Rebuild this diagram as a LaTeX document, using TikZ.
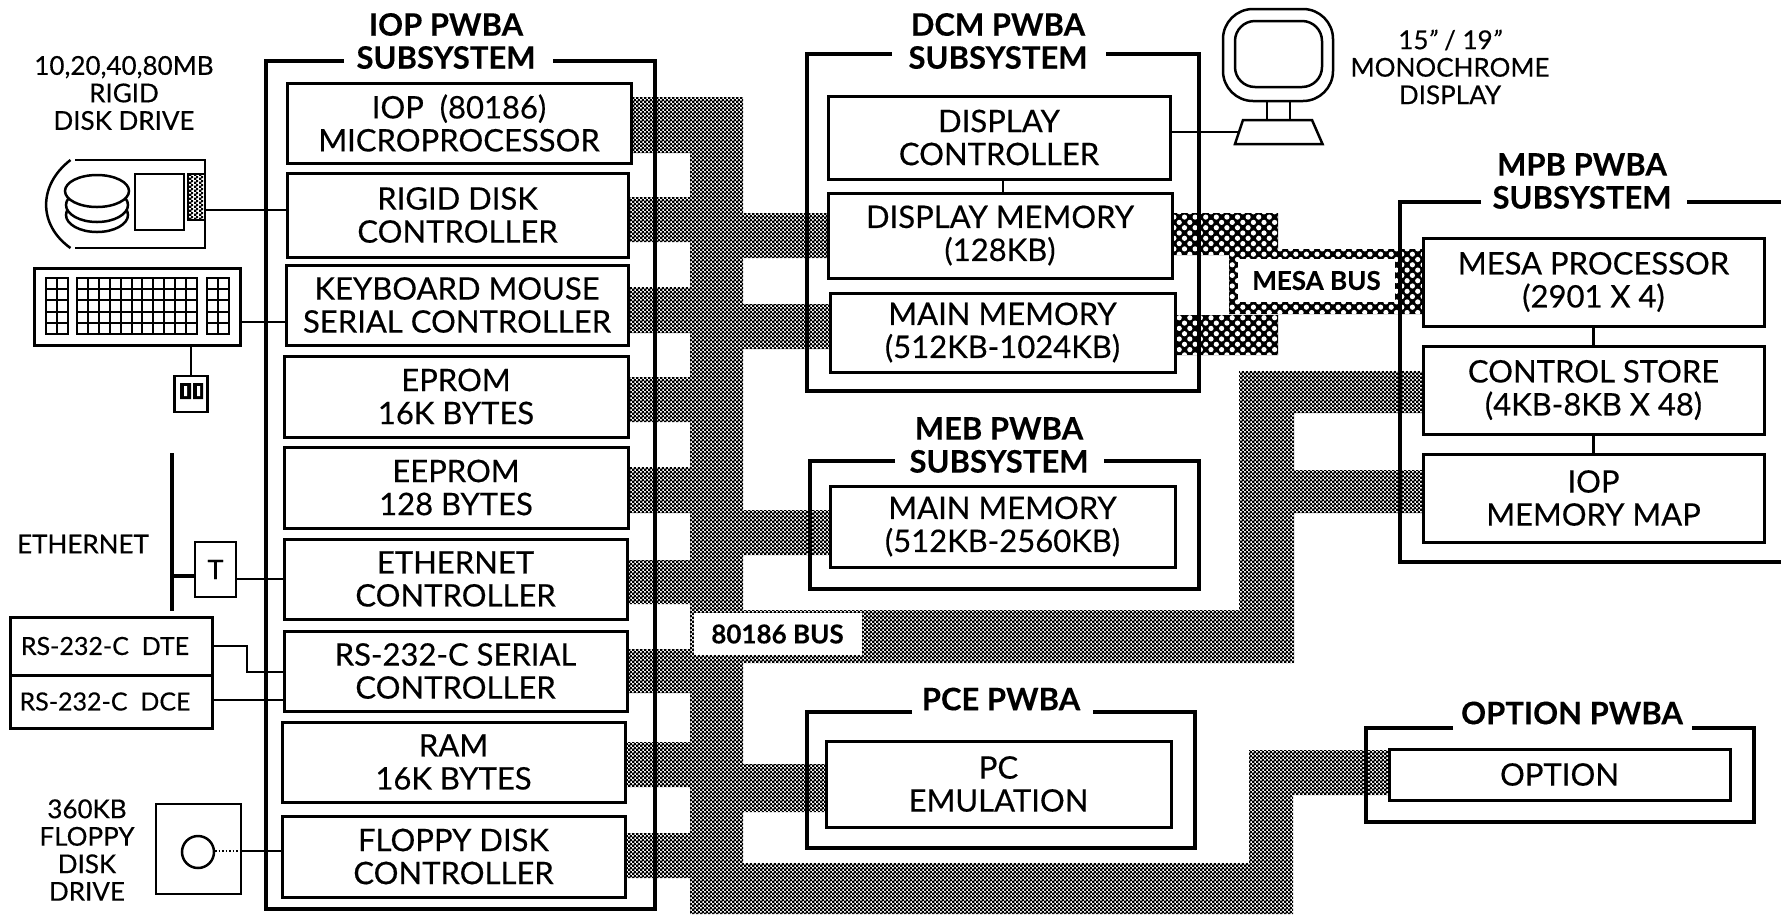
\documentclass[tikz,border=0pt]{standalone}
\usepackage{fontspec}
\usetikzlibrary{patterns,calc}
\setmainfont{Lato}[FakeBold=0.4,BoldFeatures={FakeBold=0.25}]
\pgfdeclarepatternformonly{ditherfine}{\pgfpoint{0pt}{0pt}}{\pgfpoint{4.4pt}{4.4pt}}{\pgfpoint{4.4pt}{4.4pt}}{
  \pgfpathrectangle{\pgfpoint{0pt}{0pt}}{\pgfpoint{2.6pt}{2.6pt}}
  \pgfpathrectangle{\pgfpoint{2.2pt}{2.2pt}}{\pgfpoint{2.2pt}{2.2pt}}
  \pgfusepath{fill}}
\pgfdeclarepatternformonly{dithercoarse}{\pgfpoint{-1pt}{-1pt}}{\pgfpoint{11pt}{11pt}}{\pgfpoint{10.6pt}{10.6pt}}{
  \pgfpathcircle{\pgfpoint{2.6pt}{2.6pt}}{2.6pt}
  \pgfpathcircle{\pgfpoint{7.9pt}{7.9pt}}{2.6pt}
  \pgfusepath{fill}}
\tikzset{
  boxst/.style={draw=black,line width=3pt,fill=white,inner sep=0pt,outer sep=0pt,align=center,font=\fontsize{31}{33}\selectfont},
  framest/.style={draw=black,line width=4.5pt,line join=miter},
  titlest/.style={inner sep=0pt,align=center,font=\fontsize{31}{33}\selectfont\bfseries},
  labelst/.style={inner sep=0pt,align=center,font=\fontsize{26}{27.5}\selectfont},
  conn/.style={draw=black,line width=2.5pt},
  bus/.style={pattern=ditherfine,pattern color=black},
  coarse/.style={preaction={fill=black},pattern=dithercoarse,pattern color=white},
  buslabel/.style={fill=white,inner sep=0pt,align=center,font=\fontsize{26}{27}\selectfont\bfseries},
  rsbox/.style={draw=black,line width=3pt,inner sep=0pt,outer sep=0pt,font=\fontsize{25}{26}\selectfont}
}
\newcommand\bx[6]{\node[boxst,minimum width={(#4-#2)*1pt},minimum height={(#5-#3)*1pt}] (#1) at ({(#2+#4)/2},{(#3+#5)/2}) {#6};}
\newcommand\keypad[6]{%
  \draw[line width=2pt] (#1,#2) rectangle (#3,#4);
  \foreach \c in {1,...,#5}{\draw[line width=2pt] ({#1+(#3-#1)*\c/#5},#2) -- ({#1+(#3-#1)*\c/#5},#4);}
  \foreach \r in {1,...,#6}{\draw[line width=2pt] (#1,{#2+(#4-#2)*\r/#6}) -- (#3,{#2+(#4-#2)*\r/#6});}}
\begin{document}
\begin{tikzpicture}[x=1pt,y=-1pt]
\useasboundingbox (0,0) rectangle (1781,914);
\fill[white] (0,0) rectangle (1781,914);
% ---------- 80186 bus
\fill[bus]
  (631,97) rectangle (743,153)
  (628,197) rectangle (743,242)
  (628,287) rectangle (743,333)
  (628,377) rectangle (743,422)
  (628,467) rectangle (743,513)
  (628,560) rectangle (743,604)
  (628,649) rectangle (743,693)
  (625,742) rectangle (743,787)
  (625,833) rectangle (743,878)
  (690,97) rectangle (743,914)
  (743,213) rectangle (828,258)
  (743,304) rectangle (830,349)
  (743,510) rectangle (830,555)
  (743,764) rectangle (826,812)
  (690,610) rectangle (1294,663)
  (1239,371) rectangle (1294,663)
  (1239,371) rectangle (1423,413)
  (1294,470) rectangle (1423,513)
  (690,863) rectangle (1293,914)
  (1249,750) rectangle (1293,914)
  (1249,750) rectangle (1389,795);
% ---------- Mesa bus
\fill[coarse]
  (1172,213) rectangle (1278,255)
  (1172,315) rectangle (1278,355)
  (1229,249) rectangle (1423,314);
\node[buslabel,minimum width=157pt,minimum height=43pt] (mesabus) at (1316.5,280.5) {MESA BUS};
\node[buslabel,minimum width=168pt,minimum height=42pt] (bus186) at (777.5,634) {80186 BUS};
% ---------- frames
\draw[framest] (344,61) -- (266,61) -- (266,909) -- (655,909) -- (655,61) -- (553,61);
\draw[framest] (892,54) -- (807,54) -- (807,391) -- (1199,391) -- (1199,54) -- (1106,54);
\draw[framest] (895,461) -- (810,461) -- (810,589) -- (1199,589) -- (1199,461) -- (1104,461);
\draw[framest] (912,712) -- (807,712) -- (807,848) -- (1195,848) -- (1195,712) -- (1093,712);
\draw[framest] (1453,728) -- (1366,728) -- (1366,822) -- (1754,822) -- (1754,728) -- (1692,728);
\draw[framest] (1481,202) -- (1400,202) -- (1400,562) -- (1781,562);
\draw[framest] (1687,202) -- (1781,202);
% ---------- titles
\node[titlest] (tiop) at (446,41) {IOP PWBA\\SUBSYSTEM};
\node[titlest] (tdcm) at (998,41) {DCM PWBA\\SUBSYSTEM};
\node[titlest] (tmeb) at (999,445) {MEB PWBA\\SUBSYSTEM};
\node[titlest] (tmpb) at (1582,181) {MPB PWBA\\SUBSYSTEM};
\node[titlest] (tpce) at (1001,699) {PCE PWBA};
\node[titlest] (topt) at (1572,713) {OPTION PWBA};
% ---------- IOP boxes
\bx{iop}{287}{83}{631}{163}{IOP\ \ (80186)\\MICROPROCESSOR}
\bx{rdc}{287}{173}{628}{257}{RIGID DISK\\CONTROLLER}
\bx{kbc}{286}{265}{628}{345}{KEYBOARD MOUSE\\SERIAL CONTROLLER}
\bx{eprom}{284}{356}{628}{437}{EPROM\\16K BYTES}
\bx{eeprom}{284}{447}{628}{528}{EEPROM\\128 BYTES}
\bx{ethc}{284}{539}{627}{619}{ETHERNET\\CONTROLLER}
\bx{rsc}{284}{631}{627}{711}{RS-232-C SERIAL\\CONTROLLER}
\bx{ram}{282}{722}{625}{802}{RAM\\16K BYTES}
\bx{fdc}{282}{816}{625}{897}{FLOPPY DISK\\CONTROLLER}
% ---------- DCM
\bx{dispc}{828}{96}{1170}{179}{DISPLAY\\CONTROLLER}
\bx{dispm}{828}{193}{1172}{278}{DISPLAY MEMORY\\(128KB)}
\bx{mainm}{830}{293}{1175}{372}{MAIN MEMORY\\(512KB-1024KB)}
\draw[conn] ($(dispc.south)+(4,0)$) -- ($(dispm.north)+(3,0)$);
% ---------- MEB, PCE, Option
\bx{mebm}{830}{486}{1175}{567}{MAIN MEMORY\\(512KB-2560KB)}
\bx{pce}{826}{741}{1171}{827}{PC\\EMULATION}
\bx{opt}{1389}{749}{1730}{800}{OPTION}
% ---------- MPB
\bx{mesa}{1423}{238}{1764}{326}{MESA PROCESSOR\\(2901 X 4)}
\bx{cstore}{1423}{346}{1764}{434}{CONTROL STORE\\(4KB-8KB X 48)}
\bx{iopmap}{1423}{454}{1764}{542}{IOP\\MEMORY MAP}
\draw[conn] (mesa.south) -- (cstore.north);
\draw[conn] (cstore.south) -- (iopmap.north);
% ---------- monitor
\draw[line width=2.5pt,rounded corners=30pt] (1223,9) rectangle (1333,101);
\draw[line width=2.5pt,rounded corners=20pt] (1235,21) rectangle (1322,87);
\draw[line width=2.5pt] (1267,101) -- (1267,120) (1290,101) -- (1290,120);
\draw[line width=2.5pt,fill=white,line join=miter] (1243,120) -- (1312,120) -- (1322.5,144) -- (1235,144) -- cycle;
\coordinate (monport) at (1238,132);
\draw[conn] (dispc.east |- monport) -- (monport);
\node[labelst] (monl) at (1450,67) {15\textit{"} / 19\textit{"}\\MONOCHROME\\DISPLAY};
% ---------- rigid disk
\node[labelst] (diskl) at (124,93) {10,20,40,80MB\\RIGID\\DISK DRIVE};
\draw[line width=2.5pt] (70.5,160) .. controls (38,185) and (38,225) .. (70.5,248);
\draw[line width=2.5pt] (75,160) -- (205,160) -- (205,248) -- (75,248);
\draw[line width=2.5pt,fill=white] (97,215) ellipse (31pt and 17pt);
\draw[line width=2.5pt,fill=white] (97,205) ellipse (31pt and 17pt);
\draw[line width=2.5pt,fill=white] (97,191) ellipse (32pt and 16pt);
\draw[line width=2.5pt] (135,174) rectangle (184,230);
\fill[bus] (188,174) rectangle (205,220);
\draw[line width=2.5pt] (188,174) rectangle (205,220);
\coordinate (diskport) at (205,210);
\draw[conn] (diskport) -- (rdc.west |- diskport);
% ---------- keyboard and mouse
\node[draw=black,line width=3pt,minimum width=206pt,minimum height=77pt,inner sep=0pt,outer sep=0pt] (kbd) at (137,306.5) {};
\keypad{46}{278}{68}{334}{2}{5}
\keypad{77}{278}{197}{334}{11}{5}
\keypad{207}{278}{229}{334}{2}{5}
\coordinate (kport) at (240,322);
\draw[conn] (kport) -- (kbc.west |- kport);
\node[draw=black,line width=2.5pt,minimum width=33pt,minimum height=36pt,inner sep=0pt,outer sep=0pt] (mouse) at (191,394) {};
\draw[conn] (mouse.north) -- (mouse.north |- kbd.south);
\fill[black] (180,383) rectangle (191,399) (193,383) rectangle (203,399);
\fill[white] (184,386) rectangle (187,396) (197,386) rectangle (200,396);
% ---------- ethernet
\node[labelst] (ethl) at (83,544) {ETHERNET};
\coordinate (etop) at (172,453);
\coordinate (ebot) at (172,611);
\draw[line width=4.5pt] (etop) -- (ebot);
\node[draw=black,line width=2.5pt,fill=white,minimum width=41pt,minimum height=55pt,inner sep=0pt,outer sep=0pt,font=\fontsize{27}{27}\selectfont] (tap) at (215.5,569.5) {T};
\draw[line width=4pt] (172,576) -- (tap.west |- 0,576);
\draw[conn] (tap.east |- ethc.west) -- (ethc.west);
% ---------- RS-232
\node[rsbox,minimum width=202pt,minimum height=58pt] (dte) at (111,646) {RS-232-C\ \ DTE\hspace*{12pt}};
\node[rsbox,minimum width=202pt,minimum height=53pt] (dce) at (111,701.5) {RS-232-C\ \ DCE\hspace*{12pt}};
\coordinate (rsj) at (247,672);
\coordinate (dcej) at (212,700);
\draw[conn] (dte.east) -- (rsj |- dte.east) -- (rsj) -- (rsc.west |- rsj);
\draw[conn] (dcej) -- (rsc.west |- dcej);
% ---------- floppy
\node[labelst] (flopl) at (87,850) {360KB\\FLOPPY\\DISK\\DRIVE};
\node[draw=black,line width=2.5pt,minimum width=85pt,minimum height=90pt,inner sep=0pt,outer sep=0pt] (fdd) at (198.5,849) {};
\draw[line width=2.5pt] (198,852) ellipse (16pt and 16pt);
\draw[line width=1.5pt,dotted] (215,851) -- (fdd.east |- 0,851);
\draw[conn] (fdd.east |- 0,851) -- (fdc.west |- 0,851);
\end{tikzpicture}
\end{document}
